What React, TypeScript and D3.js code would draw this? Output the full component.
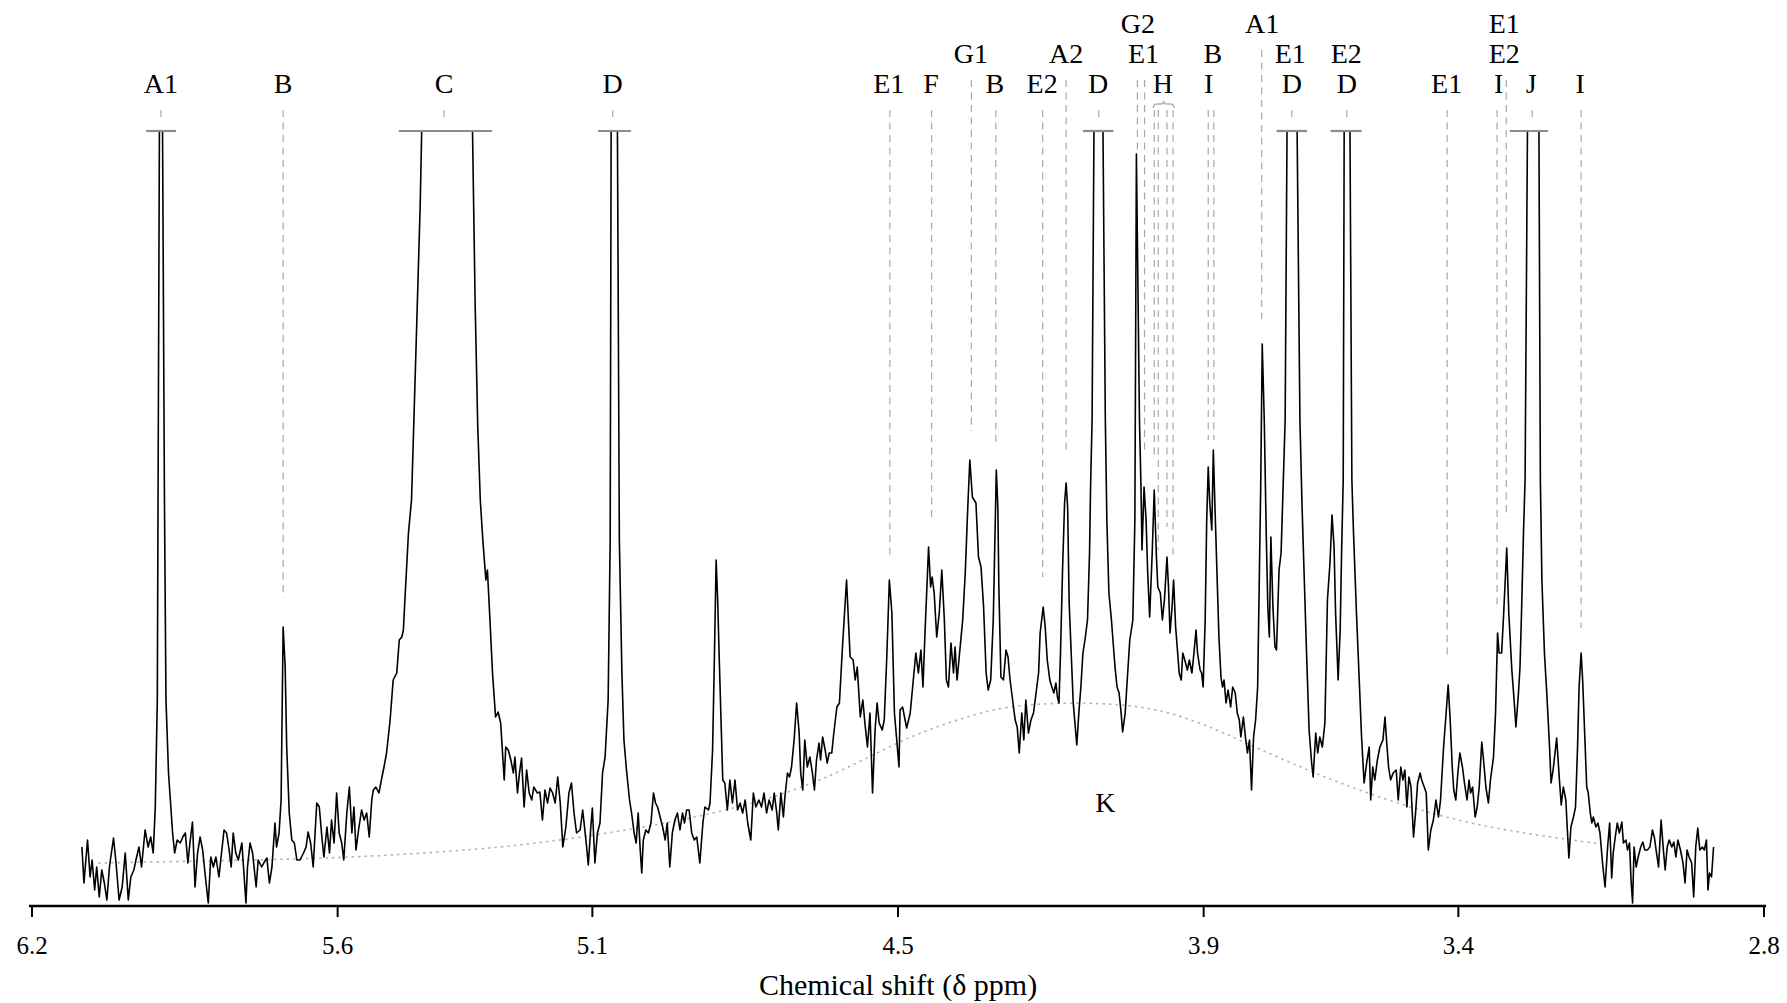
import React from 'react';
import * as d3 from 'd3';

const WIDTH = 1787;
const HEIGHT = 1003;

const ppmTicks = [6.2, 5.6, 5.1, 4.5, 3.9, 3.4, 2.8];
const axisTitle = 'Chemical shift (δ ppm)';

// spectrum traced as [ppm, intensity (a.u.)]; values above 775 are off-scale (truncated)
const segA: [number, number][] = [
  [6.102,59],[6.098,23],[6.091,66],[6.086,29],[6.082,46],[6.077,16],[6.073,39],[6.068,9],[6.063,36],[6.058,23],[6.053,6],[6.048,39],[6.040,68],[6.035,43],[6.029,6],[6.023,19],[6.017,53],[6.011,6],[6.006,29],[6.000,36],[5.996,46],[5.990,59],[5.985,39],[5.978,76],[5.972,59],[5.967,69],[5.962,53],[5.958,99],[5.954,206],[5.949,900],[5.947,1400],[5.945,900],[5.940,406],[5.937,206],[5.932,133],[5.928,103],[5.924,73],[5.920,53],[5.915,66],[5.909,63],[5.904,69],[5.899,73],[5.894,43],[5.890,63],[5.885,84],[5.880,19],[5.875,53],[5.870,69],[5.865,56],[5.859,26],[5.854,3],[5.849,49],[5.844,39],[5.839,49],[5.833,29],[5.828,53],[5.823,76],[5.818,73],[5.813,56],[5.809,39],[5.805,73],[5.800,53],[5.795,46],[5.788,63],[5.784,33],[5.780,3],[5.777,39],[5.772,63],[5.767,53],[5.760,19],[5.756,46],[5.749,39],[5.745,43],[5.739,48],[5.734,23],[5.729,39],[5.723,83],[5.720,59],[5.715,73],[5.711,106],[5.707,279],[5.703,239],[5.700,159],[5.695,93],[5.690,66],[5.685,63],[5.680,46],[5.674,46],[5.667,53],[5.662,59],[5.658,74],[5.653,63],[5.648,39],[5.641,103],[5.636,99],[5.631,69],[5.627,49],[5.621,79],[5.616,53],[5.612,86],[5.607,63],[5.602,113],[5.597,73],[5.592,63],[5.588,46],[5.582,93],[5.577,119],[5.572,73],[5.568,99],[5.564,56],[5.559,76],[5.553,96],[5.548,86],[5.543,93],[5.538,69],[5.533,106],[5.530,116],[5.525,119],[5.519,113],[5.513,129],[5.509,139],[5.504,153],[5.497,186],[5.491,226],[5.484,233],[5.479,266],[5.474,269],[5.471,276],[5.468,306],[5.461,373],[5.455,406],[5.446,560],[5.438,700],[5.434,800],[5.385,1200],[5.336,800],[5.330,600],[5.325,480],[5.320,406],
];

const segB: [number, number][] = [
  [5.315,366],[5.309,326],[5.306,336],[5.301,286],[5.296,233],[5.290,189],[5.285,194],[5.280,183],[5.273,126],[5.270,159],[5.265,156],[5.260,146],[5.255,133],[5.252,149],[5.247,113],[5.243,133],[5.239,148],[5.234,99],[5.229,136],[5.224,113],[5.219,106],[5.215,119],[5.208,113],[5.203,114],[5.198,86],[5.193,116],[5.188,103],[5.183,118],[5.178,113],[5.173,103],[5.168,129],[5.163,103],[5.158,59],[5.152,79],[5.146,113],[5.141,123],[5.136,93],[5.131,73],[5.124,76],[5.119,96],[5.112,63],[5.108,41],[5.103,79],[5.100,98],[5.095,43],[5.090,73],[5.085,83],[5.080,133],[5.075,149],[5.069,206],[5.065,366],[5.063,800],[5.057,1400],[5.051,800],[5.047,366],[5.042,233],[5.038,166],[5.033,136],[5.027,106],[5.023,93],[5.018,73],[5.014,63],[5.010,93],[5.006,56],[5.003,33],[5.000,66],[4.995,76],[4.990,73],[4.985,83],[4.980,113],[4.976,103],[4.972,99],[4.967,89],[4.962,79],[4.957,66],[4.953,83],[4.948,39],[4.943,73],[4.938,86],[4.933,93],[4.928,76],[4.923,93],[4.919,83],[4.915,96],[4.910,96],[4.905,73],[4.900,66],[4.895,69],[4.889,43],[4.883,83],[4.879,99],[4.872,96],[4.869,103],[4.864,156],[4.861,233],[4.857,346],[4.854,306],[4.851,249],[4.847,179],[4.844,126],[4.840,123],[4.835,96],[4.830,126],[4.825,103],[4.820,126],[4.815,96],[4.810,103],[4.805,93],[4.800,106],[4.795,83],[4.789,66],[4.784,113],[4.779,99],[4.773,106],[4.768,99],[4.763,113],[4.758,93],[4.753,106],[4.747,96],[4.743,113],[4.738,93],[4.735,76],[4.730,113],[4.725,89],[4.722,109],[4.717,133],[4.713,129],[4.709,139],[4.704,166],[4.699,203],[4.694,173],[4.691,133],[4.687,116],[4.683,166],[4.678,139],[4.673,149],[4.668,133],[4.664,116],[4.660,146],[4.655,163],[4.652,146],[4.648,169],[4.643,156],[4.639,143],[4.635,153],[4.630,153],[4.626,173],[4.620,199],[4.615,203],[4.609,259],[4.601,326],[4.594,249],[4.588,246],[4.584,226],[4.580,239],[4.574,189],[4.569,206],[4.565,183],[4.560,159],[4.555,193],[4.550,113],[4.545,176],[4.541,203],[4.537,183],[4.531,176],[4.527,186],[4.522,249],[4.517,326],[4.512,293],[4.507,193],[4.502,163],[4.498,139],
];

const segC: [number, number][] = [
  [4.496,196],[4.491,199],[4.483,178],[4.476,193],[4.470,226],[4.465,253],[4.460,233],[4.455,256],[4.451,219],[4.447,273],[4.440,359],[4.436,319],[4.433,329],[4.429,313],[4.424,269],[4.419,293],[4.414,336],[4.409,286],[4.405,226],[4.401,219],[4.396,263],[4.391,233],[4.388,259],[4.384,226],[4.378,259],[4.373,286],[4.368,333],[4.363,399],[4.359,446],[4.354,409],[4.347,403],[4.342,349],[4.337,339],[4.332,299],[4.327,233],[4.323,216],[4.318,226],[4.313,286],[4.309,386],[4.307,436],[4.304,399],[4.302,319],[4.298,229],[4.293,226],[4.288,256],[4.284,249],[4.280,226],[4.275,206],[4.270,186],[4.266,179],[4.262,153],[4.257,193],[4.253,166],[4.249,206],[4.244,173],[4.239,186],[4.234,193],[4.229,213],[4.224,233],[4.221,273],[4.218,286],[4.215,299],[4.211,279],[4.207,246],[4.202,226],[4.198,219],[4.194,213],[4.190,223],[4.187,209],[4.184,203],[4.181,253],[4.177,336],[4.173,403],[4.170,423],[4.167,399],[4.164,303],[4.160,253],[4.156,203],[4.152,179],[4.149,161],[4.145,193],[4.141,219],[4.137,253],[4.133,266],[4.128,286],[4.124,353],[4.122,419],[4.119,486],[4.115,800],[4.107,1400],[4.098,800],[4.093,486],[4.090,386],[4.086,313],[4.081,286],[4.074,239],[4.070,219],[4.066,213],[4.062,193],[4.059,174],[4.054,193],[4.050,226],[4.045,266],[4.039,286],[4.035,386],[4.032,752],[4.026,486],[4.023,419],[4.021,356],[4.017,419],[4.013,386],[4.010,336],[4.006,289],[4.001,353],[3.997,416],[3.993,353],[3.990,319],[3.985,313],[3.981,286],[3.977,306],[3.972,349],[3.969,319],[3.966,273],[3.962,299],[3.959,326],[3.955,279],[3.951,253],[3.948,233],[3.944,226],[3.941,253],[3.937,246],[3.932,236],[3.928,246],[3.923,233],[3.919,253],[3.915,276],[3.912,253],[3.907,236],[3.904,233],[3.901,219],[3.897,286],[3.894,386],[3.891,439],[3.888,403],[3.884,376],[3.881,456],[3.878,403],[3.874,336],[3.870,269],[3.866,229],[3.863,219],[3.860,226],[3.856,203],[3.852,216],[3.847,199],[3.843,219],[3.838,213],[3.834,193],[3.830,186],[3.827,169],[3.822,189],[3.818,169],[3.814,153],[3.810,166],[3.806,116],[3.802,169],[3.798,186],[3.794,219],[3.791,319],[3.788,419],[3.785,562],[3.781,486],[3.777,369],[3.774,299],[3.771,269],[3.768,369],[3.764,299],[3.760,259],[3.757,256],[3.752,336],[3.748,353],[3.744,419],[3.740,486],[3.736,800],[3.727,1400],[3.717,800],[3.711,486],[3.707,403],[3.703,336],[3.698,253],[3.693,176],[3.688,143],[3.685,129],[3.680,173],[3.676,153],
];

const segD: [number, number][] = [
  [3.672,169],[3.667,159],[3.662,183],[3.657,306],[3.652,343],[3.648,391],[3.644,359],[3.641,293],[3.636,226],[3.632,276],[3.629,359],[3.626,426],[3.624,800],[3.618,1400],[3.613,800],[3.609,426],[3.606,376],[3.600,293],[3.594,219],[3.590,169],[3.585,123],[3.580,143],[3.575,159],[3.572,106],[3.568,139],[3.564,126],[3.559,146],[3.554,159],[3.548,166],[3.544,189],[3.541,166],[3.537,139],[3.533,126],[3.528,133],[3.522,136],[3.518,106],[3.513,139],[3.509,126],[3.505,136],[3.501,99],[3.497,129],[3.493,119],[3.488,69],[3.484,93],[3.480,123],[3.475,133],[3.472,126],[3.467,119],[3.463,113],[3.459,56],[3.454,76],[3.449,86],[3.444,106],[3.439,89],[3.435,106],[3.429,159],[3.425,186],[3.420,221],[3.416,186],[3.412,139],[3.409,116],[3.405,106],[3.401,133],[3.397,153],[3.392,139],[3.388,123],[3.383,106],[3.379,126],[3.376,113],[3.372,119],[3.367,89],[3.363,99],[3.359,119],[3.354,164],[3.350,143],[3.346,119],[3.341,103],[3.337,126],[3.331,149],[3.327,193],[3.323,273],[3.320,253],[3.315,253],[3.311,293],[3.305,358],[3.301,293],[3.295,236],[3.291,209],[3.287,179],[3.282,213],[3.279,239],[3.276,293],[3.272,376],[3.269,426],[3.264,800],[3.253,1400],[3.242,800],[3.239,426],[3.236,326],[3.231,253],[3.226,209],[3.221,159],[3.218,123],[3.214,136],[3.207,168],[3.202,129],[3.198,101],[3.194,119],[3.189,106],[3.186,76],[3.183,48],[3.179,79],[3.174,89],[3.170,99],[3.166,159],[3.163,219],[3.159,253],[3.156,226],[3.151,159],[3.148,119],[3.145,113],[3.141,93],[3.138,83],[3.135,89],[3.130,79],[3.126,83],[3.122,73],[3.117,43],[3.112,19],[3.107,59],[3.103,83],[3.099,28],[3.096,53],[3.092,69],[3.088,83],[3.084,73],[3.079,84],[3.076,63],[3.071,66],[3.068,56],[3.064,63],[3.061,26],[3.058,3],[3.055,59],[3.051,39],[3.047,49],[3.042,59],[3.038,64],[3.034,56],[3.029,56],[3.024,59],[3.019,76],[3.015,68],[3.011,53],[3.007,39],[3.002,86],[2.998,59],[2.994,36],[2.990,59],[2.986,66],[2.981,59],[2.977,64],[2.973,49],[2.969,66],[2.964,56],[2.959,43],[2.955,23],[2.951,56],[2.947,49],[2.942,43],[2.938,9],[2.934,59],[2.930,78],[2.926,56],[2.921,59],[2.917,56],[2.913,66],[2.910,16],[2.907,33],[2.903,29],[2.899,59],
];

// broad underlying hump K (dotted)
const humpPpm = [6.070, 5.962, 5.772, 5.589, 5.321, 5.124, 4.889, 4.667, 4.496, 4.398, 4.300, 4.202, 4.103, 4.005, 3.907, 3.809, 3.711, 3.632, 3.540, 3.410, 3.277, 3.147, 3.122];
const humpIntensity = [43, 44, 46, 48, 56, 68, 88, 119, 166, 184, 199, 203, 203, 199, 184, 161, 139, 123, 106, 86, 73, 64, 62];
const humpLabel = 'K';
const humpLabelPpm = 4.093;
const humpLabelIntensity = 94;

// peak assignment labels
const labelText = ['A1','B','C','D','E1','F','B','E2','D','H','I','D','D','E1','I','J','I',
  'G1','A2','E1','B','E1','E2','E2',
  'G2','A1','E1'];
const labelPpm = [5.947,5.707,5.391,5.060,4.518,4.435,4.310,4.217,4.107,3.980,3.890,3.727,3.619,3.423,3.321,3.257,3.161,
  4.357,4.170,4.018,3.882,3.730,3.620,3.310,
  4.029,3.785,3.310];
const labelRow = [1,1,1,1,1,1,1,1,1,1,1,1,1,1,1,1,1,
  2,2,2,2,2,2,2,
  3,3,3];

// dashed assignment markers: ppm, row where the dashes start, intensity where they stop (null = off-scale peak)
const markerPpm = [5.947,5.707,5.391,5.060,4.516,4.434,4.356,4.308,4.216,4.170,4.106,4.030,4.016,3.997,3.989,3.972,3.960,3.891,3.880,3.786,3.727,3.619,3.422,3.324,3.306,3.255,3.159];
const markerRow = [1,1,1,1,1,1,2,1,1,2,1,2,2,1,1,1,1,1,1,3,1,1,1,1,2,1,1];
const markerEnd: (number | null)[] = [null,308,null,null,348,388,475,464,329,451,null,755,453,446,356,379,349,466,466,587,null,null,250,301,388,null,278];

// off-scale peak caps (ppm ranges)
const capFrom = [5.976, 5.480, 5.089, 4.137, 3.757, 3.651, 3.299];
const capTo = [5.917, 5.297, 5.024, 4.077, 3.697, 3.590, 3.224];

// bracket grouping the H signals
const braceFrom = 3.999;
const braceTo = 3.958;

const FONT = "'Liberation Serif', 'Times New Roman', Times, serif";

export default function App() {
  const x = d3.scaleLinear().domain([6.2, 2.8]).range([32, 1764]);
  const y = d3.scaleLinear().domain([0, 775]).range([906, 131]);
  const spectrum = [...segA, ...segB, ...segC, ...segD];
  const line = d3.line<[number, number]>().x(d => x(d[0])).y(d => y(d[1]));
  const humpPts: [number, number][] = humpPpm.map((p, i) => [p, humpIntensity[i]]);
  const humpLine = d3.line<[number, number]>().x(d => x(d[0])).y(d => y(d[1])).curve(d3.curveBasis);

  const rowBaseline = [0, 93, 63, 33];
  const rowTop = [0, 110, 80, 50];
  const axisY = y(0);
  const capY = y(775);

  const bx1 = x(braceFrom);
  const bx2 = x(braceTo);
  const bm = (bx1 + bx2) / 2;
  const braceTopY = 101;
  const bracePath = `M${bx1},${braceTopY + 7} Q${bx1},${braceTopY + 3} ${bx1 + 4},${braceTopY + 3} L${bm - 3},${braceTopY + 3} Q${bm},${braceTopY + 3} ${bm},${braceTopY} Q${bm},${braceTopY + 3} ${bm + 3},${braceTopY + 3} L${bx2 - 4},${braceTopY + 3} Q${bx2},${braceTopY + 3} ${bx2},${braceTopY + 7}`;

  return (
    <svg width={WIDTH} height={HEIGHT} style={{ position: 'absolute', left: 0, top: 0, background: '#fff' }}>
      <rect x={0} y={0} width={WIDTH} height={HEIGHT} fill="#fff" />
      <defs>
        <clipPath id="plotClip">
          <rect x={0} y={capY} width={WIDTH} height={HEIGHT - capY} />
        </clipPath>
      </defs>

      <path d={humpLine(humpPts) || ''} fill="none" stroke="#b5b5b5" strokeWidth={1.6} strokeDasharray="2.5,4" />

      {markerPpm.map((p, i) => {
        const end = markerEnd[i];
        const y1 = rowTop[markerRow[i]];
        const y2 = end === null ? 117 : y(end);
        return (
          <line key={'m' + i} x1={x(p)} x2={x(p)} y1={y1} y2={y2} stroke="#a8a8a8" strokeWidth={1.2} strokeDasharray="7,5.5" />
        );
      })}

      <path d={line(spectrum) || ''} fill="none" stroke="#000" strokeWidth={1.6} strokeLinejoin="round" clipPath="url(#plotClip)" />

      {capFrom.map((p, i) => (
        <line key={'c' + i} x1={x(p)} x2={x(capTo[i])} y1={capY} y2={capY} stroke="#8c8c8c" strokeWidth={2.2} />
      ))}

      <path d={bracePath} fill="none" stroke="#b0b0b0" strokeWidth={1.3} />

      {labelText.map((t, i) => (
        <text key={'l' + i} x={x(labelPpm[i])} y={rowBaseline[labelRow[i]]} textAnchor="middle" fontFamily={FONT} fontSize={28} fill="#000">{t}</text>
      ))}

      <text x={x(humpLabelPpm)} y={y(humpLabelIntensity)} textAnchor="middle" fontFamily={FONT} fontSize={28} fill="#000">{humpLabel}</text>

      <line x1={x(6.2) - 3} x2={x(2.8) + 2} y1={axisY} y2={axisY} stroke="#000" strokeWidth={2.5} />
      {ppmTicks.map(t => (
        <g key={'t' + t}>
          <line x1={x(t)} x2={x(t)} y1={axisY} y2={axisY + 11} stroke="#000" strokeWidth={2} />
          <text x={x(t)} y={954} textAnchor="middle" fontFamily={FONT} fontSize={25} fill="#000">{t.toFixed(1)}</text>
        </g>
      ))}
      <text x={(x(6.2) + x(2.8)) / 2} y={995} textAnchor="middle" fontFamily={FONT} fontSize={30} fill="#000">{axisTitle}</text>
    </svg>
  );
}
